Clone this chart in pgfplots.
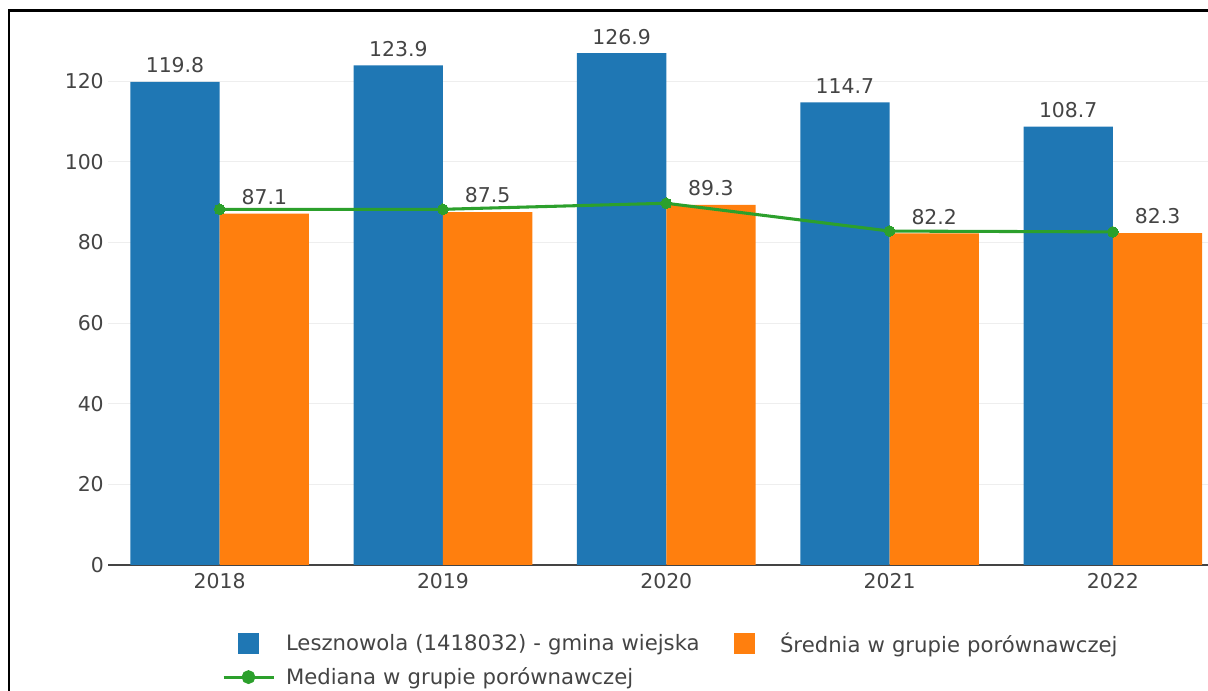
\documentclass[border=0pt]{standalone}
\usepackage{pgfplots}
\pgfplotsset{compat=1.18}
\usepackage{fontspec}
\setmainfont{DejaVu Sans}
\definecolor{cblue}{HTML}{1F77B4}
\definecolor{corange}{HTML}{FF7F0E}
\definecolor{cgreen}{HTML}{2CA02C}
\definecolor{ctext}{HTML}{444444}
\definecolor{cgrid}{HTML}{EEEEEE}
\begin{document}
\begin{tikzpicture}[x=0.75pt,y=0.75pt]
\useasboundingbox (0,0) rectangle (1208,691);
\draw[line width=2.2pt] (9,0) -- (9,680.5) -- (1208,680.5);
\begin{axis}[
  at={(81pt,94.5pt)}, anchor=south west, scale only axis,
  width=825pt, height=393.2pt,
  xmin=-0.5, xmax=4.426, ymin=0, ymax=130,
  ybar, bar width=0.4,
  axis line style={draw=none}, major tick length=0pt,
  xtick={0,1,2,3,4}, xticklabels={2018,2019,2020,2021,2022},
  ytick={20,40,60,80,100,120},
  extra y ticks={0},
  extra y tick style={grid style={ctext, line width=1.5pt}},
  ymajorgrids, grid style={cgrid, line width=0.75pt},
  tick label style={font=\fontsize{15.3}{17}\selectfont, text=ctext},
  yticklabel style={inner sep=0pt, xshift=-3pt},
  xticklabel style={inner sep=0pt, yshift=-6pt},
  /pgf/number format/assume math mode=true,
  clip=false,
  legend columns=2,
  legend cell align=left,
  legend style={at={(0.1036,-0.129)}, anchor=north west, draw=none, fill=none,
    inner sep=0pt, outer sep=0pt, row sep=10pt,
    nodes={inner sep=0pt, text width=324.75pt, align=left, text=ctext, font=\fontsize{15.9}{18}\selectfont}},
]
\addplot[fill=cblue, draw=none, bar shift=-0.2,
  nodes near coords, every node near coord/.append style={font=\fontsize{15.3}{17}\selectfont, text=ctext, inner sep=0pt, yshift=6.5pt},
  legend image code/.code={\fill[cblue] (10.875pt,-7.875pt) rectangle (26.625pt,7.875pt); \path (0pt,0pt) (45.75pt,0pt);}]
  coordinates {(0,119.8) (1,123.9) (2,126.9) (3,114.7) (4,108.7)};
\addlegendentry{Lesznowola (1418032) - gmina wiejska}
\addplot[fill=corange, draw=none, bar shift=0.2,
  nodes near coords, every node near coord/.append style={font=\fontsize{15.3}{17}\selectfont, text=ctext, inner sep=0pt, yshift=6.5pt},
  legend image code/.code={\fill[corange] (10.875pt,-7.875pt) rectangle (26.625pt,7.875pt); \path (0pt,0pt) (45.75pt,0pt);}]
  coordinates {(0,87.1) (1,87.5) (2,89.3) (3,82.2) (4,82.3)};
\addlegendentry{Średnia w grupie porównawczej}
\addplot[sharp plot, cgreen, line width=2.3pt, mark=*, mark size=4pt, mark options={fill=cgreen, draw=cgreen, line width=0pt},
  legend image code/.code={\draw[cgreen, line width=2.3pt] (0pt,0pt) -- (37.5pt,0pt); \fill[cgreen] (18.75pt,0pt) circle (4pt); \path (0pt,0pt) (45.75pt,0pt);}]
  coordinates {(0,88.2) (1,88.2) (2,89.7) (3,82.8) (4,82.6)};
\addlegendentry{Mediana w grupie porównawczej}
\end{axis}
\end{tikzpicture}
\end{document}
